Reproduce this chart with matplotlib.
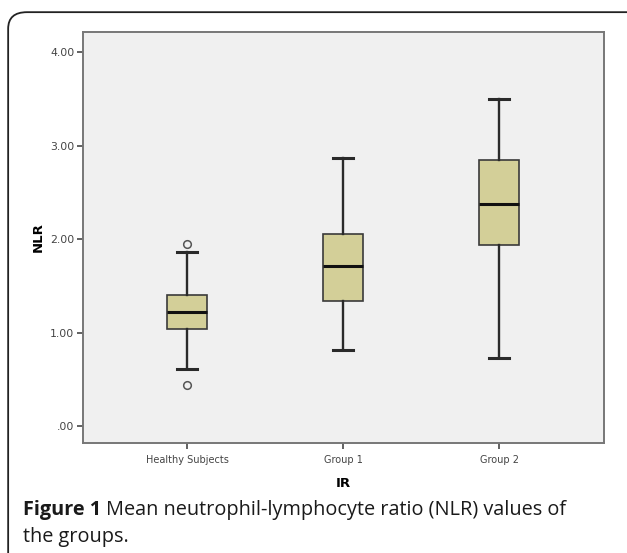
import matplotlib
matplotlib.use("Agg")
from matplotlib import pyplot as plt
from matplotlib.patches import FancyBboxPatch

# box plot summary values
groups = ["Healthy Subjects", "Group 1", "Group 2"]
whisker_low = [0.61, 0.82, 0.725]
q1 = [1.04, 1.34, 1.94]
median = [1.22, 1.71, 2.38]
q3 = [1.405, 2.055, 2.85]
whisker_high = [1.865, 2.865, 3.50]
outliers = [[0.44, 1.95], [], []]

y_ticks = [0, 1, 2, 3, 4]
y_labels = [".00", "1.00", "2.00", "3.00", "4.00"]

stats = []
for i in range(len(groups)):
    stats.append({
        "label": groups[i],
        "whislo": whisker_low[i],
        "q1": q1[i],
        "med": median[i],
        "q3": q3[i],
        "whishi": whisker_high[i],
        "fliers": outliers[i],
    })

fig = plt.figure(figsize=(6.27, 5.53), dpi=100)

# rounded frame around the whole figure panel (bottom and right cut off)
frame = FancyBboxPatch((0.013, -0.05), 1.1, 1.028,
                       boxstyle="round,pad=0,rounding_size=0.03",
                       transform=fig.transFigure, facecolor="none",
                       edgecolor="#222222", linewidth=1.3, clip_on=False)
fig.patches.append(frame)

ax = fig.add_axes([0.1319, 0.1989, 0.8314, 0.7438])
ax.set_facecolor("#f0f0f0")

ax.bxp(stats, positions=[1, 2, 3], widths=0.256, patch_artist=True,
       boxprops=dict(facecolor="#d3cf98", edgecolor="#3a3a3a", linewidth=1.2),
       medianprops=dict(color="#111111", linewidth=2.2),
       whiskerprops=dict(color="#2a2a2a", linewidth=1.7),
       capprops=dict(color="#2a2a2a", linewidth=2.2),
       capwidths=0.125,
       flierprops=dict(marker="o", markersize=5.5, markerfacecolor="none",
                       markeredgecolor="#555555", markeredgewidth=1.1))

ax.set_xlim(1 - 0.669, 3 + 0.673)
ax.set_ylim(-0.18, 4.22)
ax.set_yticks(y_ticks)
ax.set_yticklabels(y_labels)
ax.set_xticks([1, 2, 3])
ax.set_xticklabels(groups)

for s in ax.spines.values():
    s.set_color("#777777")
    s.set_linewidth(1.4)

ax.tick_params(axis="both", direction="out", length=4.5, width=1.3,
               color="#555555", labelcolor="#444444")
ax.tick_params(axis="y", labelsize=7.8, pad=1.5)
ax.tick_params(axis="x", labelsize=7, pad=4)

ax.set_ylabel("NLR", fontsize=9.5, fontweight="bold", labelpad=4)
ax.set_xlabel("IR", fontsize=9.5, fontweight="bold", labelpad=9)

# caption: bold "Figure 1" followed by regular text
cap_font = "Open Sans"
cap_size = 14.3
t1 = fig.text(0.036, 0.0687, "Figure 1", fontsize=cap_size, fontweight="bold",
              family=cap_font, color="#1a1a1a", va="baseline")
fig.canvas.draw()
bb = t1.get_window_extent(renderer=fig.canvas.get_renderer())
x_next = (bb.x1 + 5) / fig.bbox.width
fig.text(x_next, 0.0687, "Mean neutrophil-lymphocyte ratio (NLR) values of",
         fontsize=cap_size, family=cap_font, color="#1a1a1a", va="baseline")
fig.text(0.036, 0.0204, "the groups.", fontsize=cap_size, family=cap_font,
         color="#1a1a1a", va="baseline")

plt.savefig("out.png", dpi=100)
